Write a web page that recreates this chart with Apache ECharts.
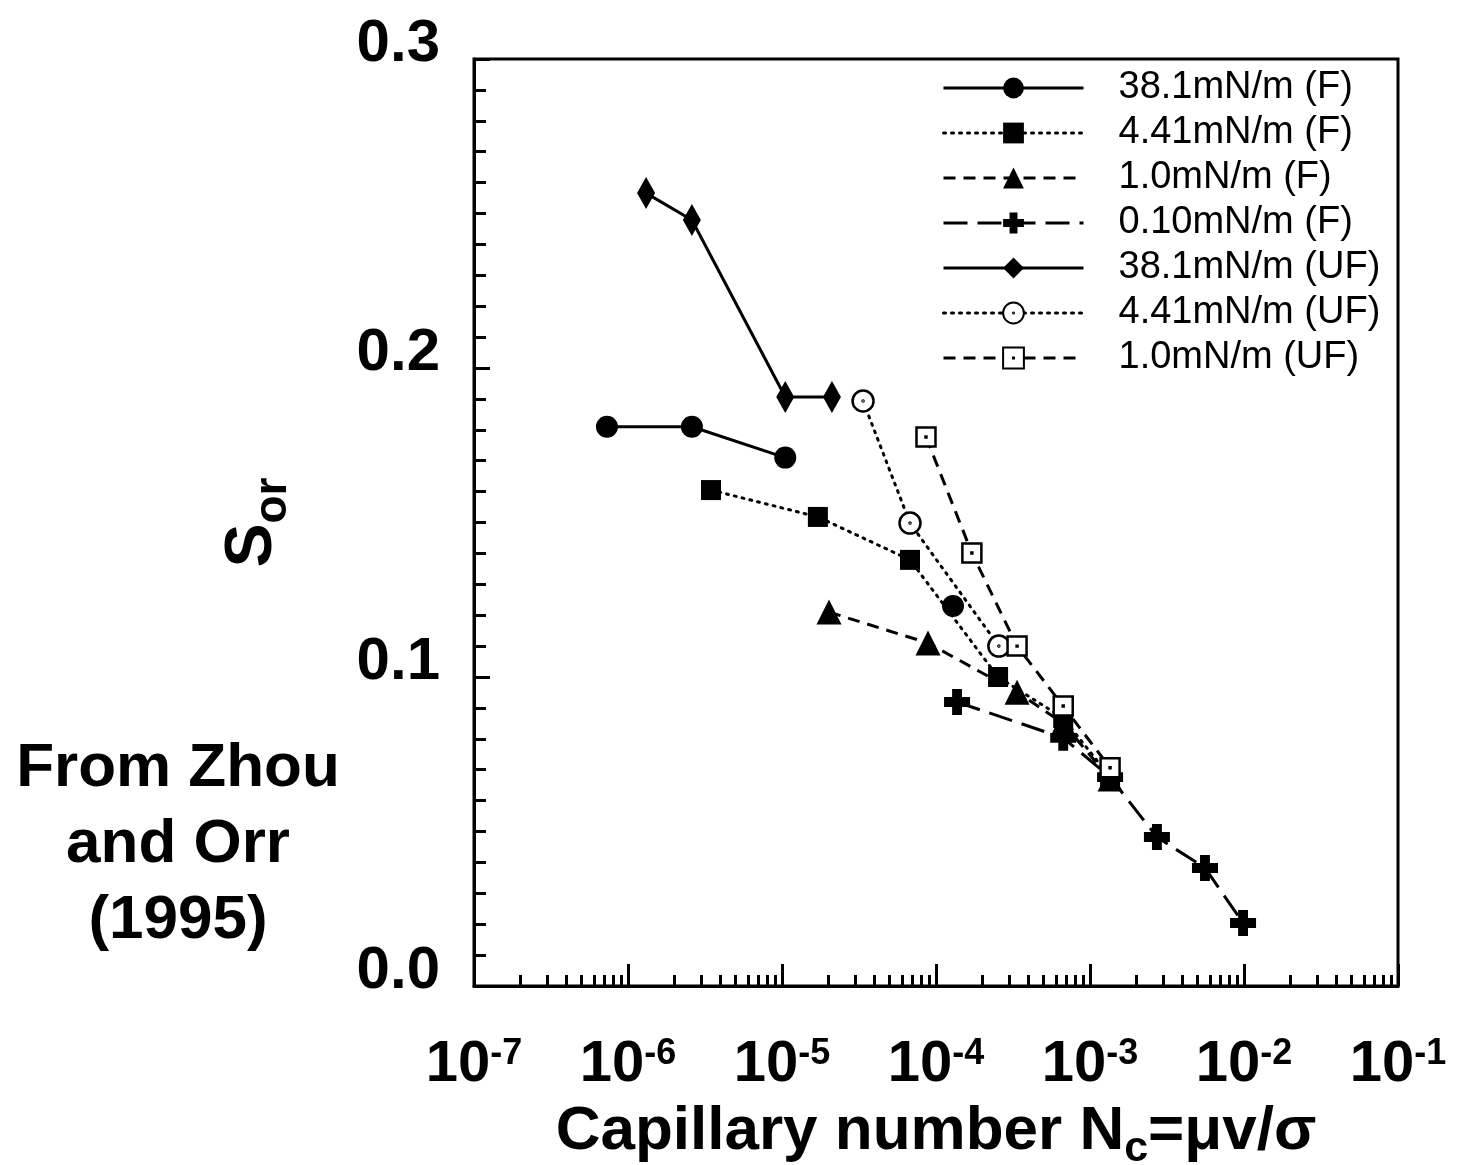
<!DOCTYPE html>
<html>
<head>
<meta charset="utf-8">
<title>Residual oil saturation vs capillary number</title>
<script src="https://cdn.jsdelivr.net/npm/echarts@6/dist/echarts.min.js"></script>
<style>
  html, body { margin: 0; padding: 0; background: #fff; }
  #chart { width: 1458px; height: 1165px; }
</style>
</head>
<body>
<div id="chart"></div>
<script>
const FONT = '"Liberation Sans", Arial, Helvetica, sans-serif';

// Legend entries (interfacial tension, F = favourable / UF = unfavourable)
const seriesNames = [
  '38.1mN/m (F)', '4.41mN/m (F)', '1.0mN/m (F)', '0.10mN/m (F)',
  '38.1mN/m (UF)', '4.41mN/m (UF)', '1.0mN/m (UF)'
];

// Capillary number Nc and residual oil saturation Sor for each series
// ('-' leaves a gap in the curve)
const nc_381F  = [7.3e-7, 2.6e-6, 1.05e-5, 4.0e-5, 1.29e-4];
const sor_381F = [0.181, 0.181, 0.171, '-', 0.123];

const nc_441F  = [3.46e-6, 1.71e-5, 6.78e-5, 2.53e-4, 6.7e-4, 1.35e-3];
const sor_441F = [0.1605, 0.1518, 0.1379, 0.1000, 0.0867, 0.0676];

const nc_10F   = [2.02e-5, 8.87e-5, 3.36e-4, 6.7e-4, 1.35e-3];
const sor_10F  = [0.1210, 0.1110, 0.0951, 0.0850, 0.0670];

const nc_010F  = [1.37e-4, 6.7e-4, 1.35e-3, 2.72e-3, 5.58e-3, 9.86e-3];
const sor_010F = [0.0919, 0.0803, 0.0676, 0.0482, 0.0382, 0.0204];

const nc_381UF  = [1.31e-6, 2.6e-6, 1.05e-5, 2.11e-5];
const sor_381UF = [0.2566, 0.2479, 0.1906, 0.1906];

const nc_441UF  = [3.36e-5, 6.78e-5, 2.56e-4];
const sor_441UF = [0.1893, 0.1498, 0.1100];

const nc_10UF   = [8.61e-5, 1.71e-4, 3.36e-4, 6.7e-4, 1.35e-3];
const sor_10UF  = [0.1777, 0.1401, 0.1100, 0.0906, 0.0706];

// Axis tick labels
const yTickLabels = ['0.0', '0.1', '0.2', '0.3'];
const xDecades = [-7, -6, -5, -4, -3, -2, -1];

// minor log ticks at 2..9 within each decade
const xMinorTicks = [];
for (let e = -7; e < -1; e++) {
  for (let m = 2; m <= 9; m++) xMinorTicks.push(m * Math.pow(10, e));
}

const pairs = (xs, ys) => xs.map((x, i) => [x, ys[i]]);

// marker shapes
const CROSS = 'path://M-3.8,-10H3.8V-3.8H10V3.8H3.8V10H-3.8V3.8H-10V-3.8H-3.8Z';
const RING_DOT = 'path://M0,-10A10,10 0 1,1 0,10A10,10 0 1,1 0,-10Z M0,-0.5A0.5,0.5 0 1,1 0,0.5A0.5,0.5 0 1,1 0,-0.5Z';
const BOX_DOT = 'path://M-10,-10H10V10H-10Z M-0.5,-0.5H0.5V0.5H-0.5Z';

const DOTTED = [2, 6];
const DASHED = [12, 8];
const LONGDASH = [24, 10];

const solidMark = { color: '#000', borderColor: '#000', borderWidth: 0 };
const hollowMark = { color: '#fff', borderColor: '#000', borderWidth: 2.5 };

function line(name, data, symbol, size, dash, itemStyle) {
  return {
    name: name,
    type: 'line',
    data: data,
    symbol: symbol,
    symbolSize: size,
    showAllSymbol: true,
    connectNulls: false,
    lineStyle: { color: '#000', width: 3, type: dash, cap: dash === DOTTED ? 'round' : 'butt' },
    itemStyle: itemStyle,
    emphasis: { disabled: true },
    z: 3
  };
}

const series = [
  line(seriesNames[0], pairs(nc_381F, sor_381F), 'circle', 22, 'solid', solidMark),
  line(seriesNames[1], pairs(nc_441F, sor_441F), 'rect', 20, DOTTED, solidMark),
  line(seriesNames[2], pairs(nc_10F, sor_10F), 'triangle', 25, DASHED, solidMark),
  line(seriesNames[3], pairs(nc_010F, sor_010F), CROSS, 26, LONGDASH, solidMark),
  line(seriesNames[4], pairs(nc_381UF, sor_381UF), 'diamond', [18, 32], 'solid', solidMark),
  line(seriesNames[5], pairs(nc_441UF, sor_441UF), RING_DOT, 21, DOTTED, hollowMark),
  line(seriesNames[6], pairs(nc_10UF, sor_10UF), BOX_DOT, 19, DASHED, hollowMark)
];

const axisBlack = { color: '#000', width: 3 };

const option = {
  animation: false,
  backgroundColor: '#fff',
  textStyle: { fontFamily: FONT, color: '#000' },
  grid: {
    left: 474, right: 60, top: 59, bottom: 179,
    outerBoundsMode: 'none',
    containLabel: false,
    show: true, borderColor: '#000', borderWidth: 3,
    backgroundColor: 'transparent'
  },
  legend: {
    orient: 'vertical',
    left: 937,
    top: 64,
    itemWidth: 140,
    itemHeight: 26,
    itemGap: 7,
    selectedMode: false,
    data: seriesNames,
    lineStyle: { width: 3 },
    textStyle: {
      fontFamily: FONT, fontSize: 38, color: '#000',
      padding: [0, 0, 0, 30]
    }
  },
  xAxis: [
    {
      type: 'log',
      logBase: 10,
      min: 1e-7,
      max: 1e-1,
      axisLine: { show: true, lineStyle: axisBlack },
      axisTick: { show: true, inside: true, length: 22, lineStyle: axisBlack },
      minorTick: { show: false },
      splitLine: { show: false },
      axisLabel: {
        margin: 50,
        color: '#000',
        formatter: function (v) {
          const e = Math.round(Math.log10(v));
          if (xDecades.indexOf(e) < 0) return '';
          return '{b|10}{s|' + e + '}';
        },
        rich: {
          b: { fontFamily: FONT, fontSize: 58, fontWeight: 'bold', color: '#000' },
          s: { fontFamily: FONT, fontSize: 36, fontWeight: 'bold', color: '#000', verticalAlign: 'top' }
        }
      },
      name: '{n|Capillary number N}{sub|c}{n|=\u03bcv/\u03c3}',
      nameLocation: 'middle',
      nameGap: 115,
      nameTextStyle: {
        rich: {
          n: { fontFamily: FONT, fontSize: 62, fontWeight: 'bold', color: '#000' },
          sub: { fontFamily: FONT, fontSize: 43, fontWeight: 'bold', color: '#000', verticalAlign: 'bottom', padding: [0, 0, -8, 0] }
        }
      }
    },
    {
      type: 'log',
      logBase: 10,
      min: 1e-7,
      max: 1e-1,
      position: 'bottom',
      axisLine: { show: false },
      axisLabel: { show: false },
      splitLine: { show: false },
      axisTick: {
        show: true, inside: true, length: 11,
        customValues: xMinorTicks,
        lineStyle: axisBlack
      }
    }
  ],
  yAxis: {
    type: 'value',
    min: 0,
    max: 0.3,
    interval: 0.1,
    axisLine: { show: true, lineStyle: axisBlack },
    axisTick: { show: true, inside: true, length: 16, lineStyle: axisBlack },
    minorTick: { show: true, splitNumber: 10, length: 12, lineStyle: axisBlack },
    splitLine: { show: false },
    axisLabel: {
      margin: 34,
      color: '#000',
      fontFamily: FONT,
      fontSize: 60,
      fontWeight: 'bold',
      verticalAlign: 'bottom',
      lineHeight: 30,
      formatter: function (v) { return yTickLabels[Math.round(v * 10)]; }
    },
    name: '{S|S}{sub|or}',
    nameLocation: 'middle',
    nameRotate: 90,
    nameGap: 188,
    nameTextStyle: {
      rich: {
        S: { fontFamily: FONT, fontSize: 66, fontWeight: 'bold', color: '#000' },
        sub: { fontFamily: FONT, fontSize: 46, fontWeight: 'bold', color: '#000', verticalAlign: 'bottom', padding: [0, 0, -10, 0] }
      }
    }
  },
  graphic: [
    {
      type: 'text',
      x: 178,
      y: 731,
      style: {
        text: 'From Zhou\nand Orr\n(1995)',
        font: 'bold 62px ' + FONT,
        fill: '#000',
        align: 'center',
        verticalAlign: 'top',
        lineHeight: 76
      }
    }
  ],
  series: series
};

const chart = echarts.init(document.getElementById('chart'), null, { renderer: 'canvas' });
chart.setOption(option);
</script>
</body>
</html>
